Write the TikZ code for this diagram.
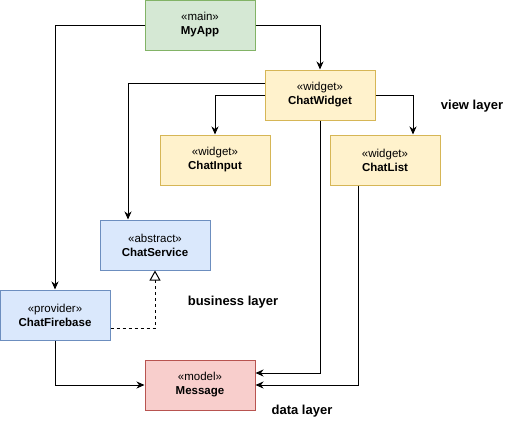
\documentclass[tikz,border=0pt]{standalone}
\usepackage{fontspec}
\setmainfont{Liberation Sans}
\usetikzlibrary{arrows.meta}

\definecolor{gruenfill}{HTML}{D5E8D4}
\definecolor{gruenrand}{HTML}{82B366}
\definecolor{gelbfill}{HTML}{FFF2CC}
\definecolor{gelbrand}{HTML}{D6B656}
\definecolor{blaufill}{HTML}{DAE8FC}
\definecolor{blaurand}{HTML}{6C8EBF}
\definecolor{rotfill}{HTML}{F8CECC}
\definecolor{rotrand}{HTML}{B85450}

\tikzset{
    klasse/.style={draw, line width=1pt, minimum width=110pt, minimum height=50pt, align=center, inner sep=0pt, font=\fontsize{11.5}{14}\selectfont},
    hauptklasse/.style={klasse, fill=gruenfill, draw=gruenrand},
    widgetklasse/.style={klasse, fill=gelbfill, draw=gelbrand},
    dienstklasse/.style={klasse, fill=blaufill, draw=blaurand},
    modellklasse/.style={klasse, fill=rotfill, draw=rotrand},
    pfeil/.style={line width=1pt, -{Stealth[length=8pt, width=7pt, inset=2.5pt]}},
    erbt/.style={line width=1pt, dashed, -{Triangle[open, length=10pt, width=11pt, fill=white]}},
    schicht/.style={font=\fontsize{13}{15}\selectfont\bfseries}
}

\begin{document}
\begin{tikzpicture}[x=1pt, y=-1pt]

        \useasboundingbox (0,0) rectangle (508,421);

        % Klassen
        \node [hauptklasse] (myapp) at (200,25) {«main»\\\textbf{MyApp}};
        \node [widgetklasse] (chatwidget) at (320,95) {«widget»\\\textbf{ChatWidget}};
        \node [widgetklasse] (chatinput) at (215,160) {«widget»\\\textbf{ChatInput}};
        \node [widgetklasse] (chatlist) at (385,160) {«widget»\\\textbf{ChatList}};
        \node [dienstklasse] (chatservice) at (155,245) {«abstract»\\\textbf{ChatService}};
        \node [dienstklasse] (chatfirebase) at (55,315) {«provider»\\\textbf{ChatFirebase}};
        \node [modellklasse] (message) at (200,385) {«model»\\\textbf{Message}};

        % Schichten
        \node [schicht] (viewlayer) at (472,106) {view layer};
        \node [schicht] (businesslayer) at (233,302) {business layer};
        \node [schicht] (datalayer) at (302,411) {data layer};

        % Abhaengigkeiten
        \draw [pfeil] (myapp.west) -| (chatfirebase.north);
        \draw [pfeil] (myapp.east) -| (chatwidget.north);
        \draw [pfeil] ([yshift=12pt]chatwidget.west) -| ([xshift=-27pt]chatservice.north);
        \draw [pfeil] (chatwidget.west) -| (chatinput.north);
        \draw [pfeil] (chatwidget.east) -| ([xshift=28pt]chatlist.north);
        \draw [pfeil] (chatwidget.south) |- ([yshift=12pt]message.east);
        \draw [pfeil] ([xshift=-27pt]chatlist.south) |- (message.east);
        \draw [pfeil] (chatfirebase.south) |- (message.west);

        % Implementierung
        \draw [erbt] ([yshift=-13pt]chatfirebase.east) -| (chatservice.south);

\end{tikzpicture}
\end{document}
